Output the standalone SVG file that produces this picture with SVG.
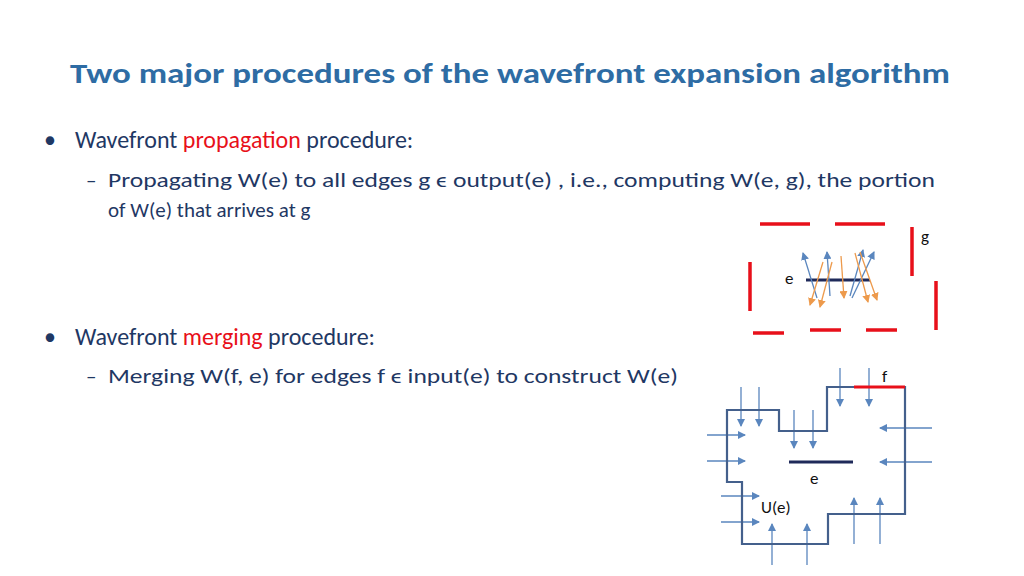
<svg xmlns="http://www.w3.org/2000/svg" width="1024" height="576" viewBox="0 0 1024 576">
<style>
text{font-family:Carlito,"Open Sans","Liberation Sans",sans-serif;fill:#1F3864}
.t{font-weight:bold;fill:#2E6CA4;font-size:29px}
.b{font-size:24px}.s{font-size:21px}.r{fill:#E8101A}
.red{stroke:#E8101A;stroke-width:3.5;fill:none}
.bl{stroke:#5A86BE;stroke-width:1.3;fill:none;marker-end:url(#ab)}
.or{stroke:#ED9A4C;stroke-width:1.3;fill:none;marker-end:url(#ao)}
.sm{font-size:17px;fill:#111}
</style>
<defs>
<marker id="ab" markerWidth="8" markerHeight="8" refX="7" refY="4" orient="auto" markerUnits="userSpaceOnUse"><path d="M0,0L8,4L0,8z" fill="#5A86BE"/></marker>
<marker id="ao" markerWidth="8" markerHeight="8" refX="7" refY="4" orient="auto" markerUnits="userSpaceOnUse"><path d="M0,0L8,4L0,8z" fill="#ED9A4C"/></marker>
</defs>
<text class="t" x="70" y="83" textLength="880" lengthAdjust="spacingAndGlyphs">Two major procedures of the wavefront expansion algorithm</text>
<text class="b" x="44" y="148">•</text>
<text class="b" x="75" y="148">Wavefront <tspan class="r">propagation</tspan> procedure:</text>
<text class="s" x="86" y="187">–</text>
<text class="s" x="108" y="187" textLength="827" lengthAdjust="spacingAndGlyphs">Propagating W(e) to all edges g ϵ output(e) , i.e., computing W(e, g), the portion</text>
<text class="s" x="108" y="217">of W(e) that arrives at g</text>
<text class="b" x="44" y="345">•</text>
<text class="b" x="75" y="345">Wavefront <tspan class="r">merging</tspan> procedure:</text>
<text class="s" x="86" y="383">–</text>
<text class="s" x="108" y="383" textLength="570" lengthAdjust="spacingAndGlyphs">Merging W(f, e) for edges f ϵ input(e) to construct W(e)</text>
<g id="fig1">
<path class="red" d="M760,224H810M835,224H885M912,227V276M936,281V330M750,262V311M753,333H784M810,330H841M866,330H897"/>
<line x1="806" y1="280" x2="870" y2="280" stroke="#1F2A5A" stroke-width="3"/>
<text class="sm" x="785" y="284">e</text>
<text class="sm" x="921" y="242">g</text>
</g>
<g id="connectors">
<line class="bl" x1="817" y1="298" x2="803" y2="253"/>
<line class="bl" x1="830" y1="296" x2="827" y2="252"/>
<line class="bl" x1="850" y1="296" x2="863" y2="250"/>
<line class="bl" x1="852" y1="298" x2="874" y2="252"/>
<line class="or" x1="823" y1="262" x2="810" y2="305"/>
<line class="or" x1="832" y1="262" x2="820" y2="307"/>
<line class="or" x1="841" y1="256" x2="844" y2="298"/>
<line class="or" x1="855" y1="253" x2="868" y2="302"/>
<line class="or" x1="860" y1="252" x2="877" y2="300"/>
<line class="bl" x1="741" y1="387" x2="741" y2="426"/>
<line class="bl" x1="759" y1="387" x2="759" y2="426"/>
<line class="bl" x1="794" y1="410" x2="794" y2="448"/>
<line class="bl" x1="813" y1="410" x2="813" y2="448"/>
<line class="bl" x1="840" y1="368" x2="840" y2="406"/>
<line class="bl" x1="869" y1="368" x2="869" y2="406"/>
<line class="bl" x1="707" y1="435" x2="745" y2="435"/>
<line class="bl" x1="707" y1="461" x2="745" y2="461"/>
<line class="bl" x1="721" y1="496" x2="759" y2="496"/>
<line class="bl" x1="721" y1="522" x2="759" y2="522"/>
<line class="bl" x1="932" y1="428" x2="880" y2="428"/>
<line class="bl" x1="932" y1="462" x2="880" y2="462"/>
<line class="bl" x1="772" y1="565" x2="772" y2="524"/>
<line class="bl" x1="807" y1="565" x2="807" y2="524"/>
<line class="bl" x1="854" y1="544" x2="854" y2="498"/>
<line class="bl" x1="880" y1="544" x2="880" y2="498"/>
</g>
<g id="fig2">
<path d="M727,410H779V431H827V387H905V514H828V544H742V482H727Z" fill="none" stroke="#44608C" stroke-width="2.2"/>
<line x1="854" y1="387" x2="905" y2="387" stroke="#E8101A" stroke-width="3"/>
<line x1="789" y1="462" x2="853" y2="462" stroke="#1F2A5A" stroke-width="3"/>
<text class="sm" x="810" y="484">e</text>
<text class="sm" x="882" y="382">f</text>
<text class="sm" x="761" y="513">U(e)</text>
</g>
</svg>
